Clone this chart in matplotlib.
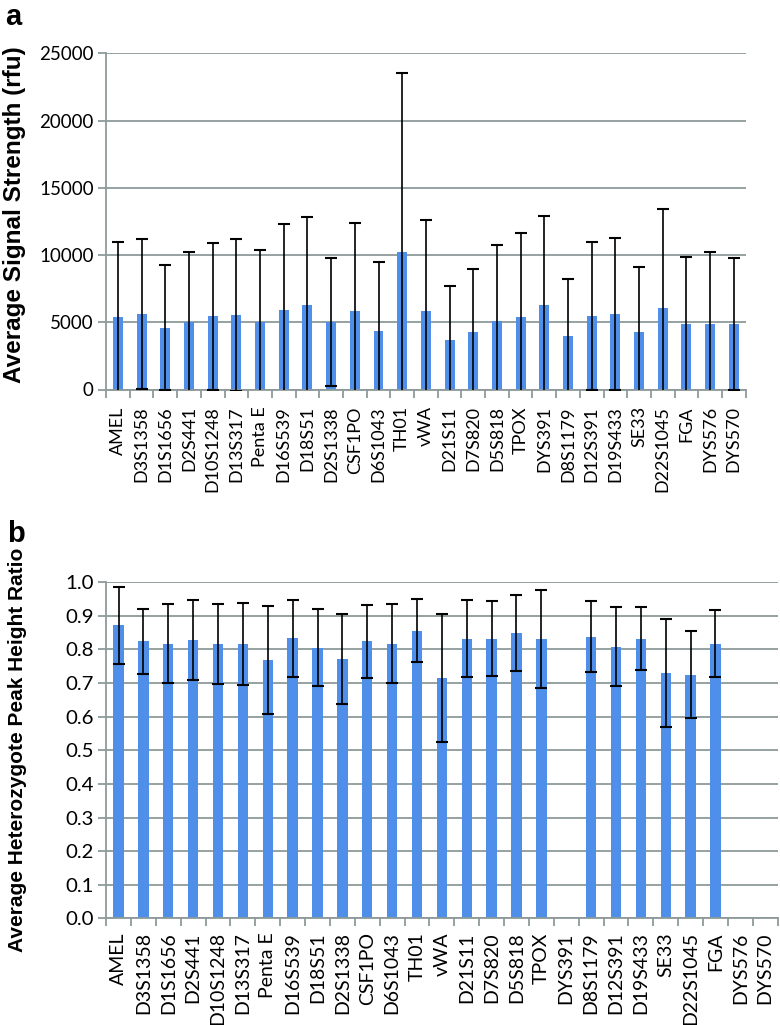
import numpy as np
import matplotlib
matplotlib.use('Agg')
import matplotlib.pyplot as plt
from matplotlib.ticker import FixedLocator

# loci shown on both panels
loci = ['AMEL', 'D3S1358', 'D1S1656', 'D2S441', 'D10S1248', 'D13S317', 'Penta E',
        'D16S539', 'D18S51', 'D2S1338', 'CSF1PO', 'D6S1043', 'TH01', 'vWA',
        'D21S11', 'D7S820', 'D5S818', 'TPOX', 'DYS391', 'D8S1179', 'D12S391',
        'D19S433', 'SE33', 'D22S1045', 'FGA', 'DYS576', 'DYS570']

# panel a: average signal strength (rfu), mean and mean+sd
signal_mean = [5410, 5600, 4590, 5030, 5430, 5560, 4990, 5930, 6300, 4990, 5830, 4370,
               10220, 5830, 3670, 4270, 5060, 5360, 6270, 3970, 5460, 5600, 4270,
               6080, 4860, 4860, 4860]
signal_top = [10990, 11190, 9250, 10220, 10860, 11210, 10370, 12280, 12800, 9750, 12350,
              9450, 23510, 12600, 7710, 8930, 10740, 11610, 12900, 8210, 10940, 11260,
              9130, 13440, 9870, 10190, 9750]

# panel b: heterozygote peak height ratio and sd (nan = no data)
phr_mean = [0.872, 0.824, 0.817, 0.828, 0.815, 0.816, 0.768, 0.833, 0.805, 0.771, 0.824,
            0.817, 0.856, 0.715, 0.832, 0.832, 0.848, 0.831, np.nan, 0.838, 0.808, 0.832,
            0.731, 0.725, 0.817, np.nan, np.nan]
phr_sd = [0.114, 0.097, 0.117, 0.118, 0.119, 0.123, 0.160, 0.115, 0.115, 0.133, 0.108,
          0.117, 0.094, 0.190, 0.115, 0.112, 0.113, 0.145, np.nan, 0.105, 0.118, 0.094,
          0.161, 0.130, 0.100, np.nan, np.nan]

signal_sd = np.array(signal_top) - np.array(signal_mean)

bar_color = '#4f8fea'
grid_color = '#8e9a9a'
bold_font = ['Liberation Sans', 'DejaVu Sans']
tick_font = ['Lato', 'DejaVu Sans']
x = np.arange(len(loci))

fig = plt.figure(figsize=(7.8, 10.25), dpi=100)
ax1 = fig.add_axes([0.136, 0.620, 0.820, 0.328])
ax2 = fig.add_axes([0.136, 0.104, 0.861, 0.328])


def style_axes(ax, n, pad):
    ax.set_xlim(-0.5, n - 0.5)
    ax.set_axisbelow(True)
    ax.yaxis.grid(True, color=grid_color, linewidth=1.3)
    for s in ['top', 'right']:
        ax.spines[s].set_visible(False)
    for s in ['left', 'bottom']:
        ax.spines[s].set_color(grid_color)
        ax.spines[s].set_linewidth(1.3)
    ax.set_xticks(np.arange(n))
    ax.tick_params(axis='x', which='major', length=0, pad=pad)
    ax.xaxis.set_minor_locator(FixedLocator(np.arange(-0.5, n, 1.0)))
    ax.tick_params(axis='x', which='minor', length=6, color=grid_color, width=1.3)
    ax.tick_params(axis='y', length=6, color=grid_color, width=1.3, pad=3)


# panel a
ax1.bar(x, signal_mean, width=0.42, color=bar_color, zorder=2)
ax1.errorbar(x, signal_mean, yerr=signal_sd, fmt='none', ecolor='black',
             elinewidth=1.2, capsize=4, capthick=1.5, zorder=3)
style_axes(ax1, len(loci), 12)
ax1.set_ylim(0, 25000)
ax1.set_yticks(np.arange(0, 25001, 5000))
ax1.set_xticklabels(loci, rotation=90, fontsize=13, family=tick_font)
for lab in ax1.get_yticklabels():
    lab.set_family(tick_font)
    lab.set_fontsize(13.5)
ax1.set_ylabel('Average Signal Strength (rfu)', fontsize=17.5, fontweight='bold',
               family=bold_font)
ax1.yaxis.set_label_coords(-0.125, 0.52)

# panel b
ax2.bar(x, phr_mean, width=0.42, color=bar_color, zorder=2)
ax2.errorbar(x, phr_mean, yerr=phr_sd, fmt='none', ecolor='black',
             elinewidth=1.2, capsize=4, capthick=1.5, zorder=3)
style_axes(ax2, len(loci), 10)
ax2.set_ylim(0, 1.0)
ax2.set_yticks(np.arange(0, 1.01, 0.1))
ax2.set_yticklabels(['%.1f' % v for v in np.arange(0, 1.01, 0.1)])
ax2.set_xticklabels(loci, rotation=90, fontsize=14, family=tick_font)
for lab in ax2.get_yticklabels():
    lab.set_family(tick_font)
    lab.set_fontsize(14.7)
ax2.set_ylabel('Average Heterozygote Peak Height Ratio', fontsize=15, fontweight='bold',
               family=bold_font)
ax2.yaxis.set_label_coords(-0.118, 0.5)

fig.text(0.007, 0.976, 'a', fontsize=21, fontweight='bold', va='baseline', family=bold_font)
fig.text(0.009, 0.471, 'b', fontsize=21, fontweight='bold', va='baseline', family=bold_font)

fig.savefig('out.png', dpi=100)
